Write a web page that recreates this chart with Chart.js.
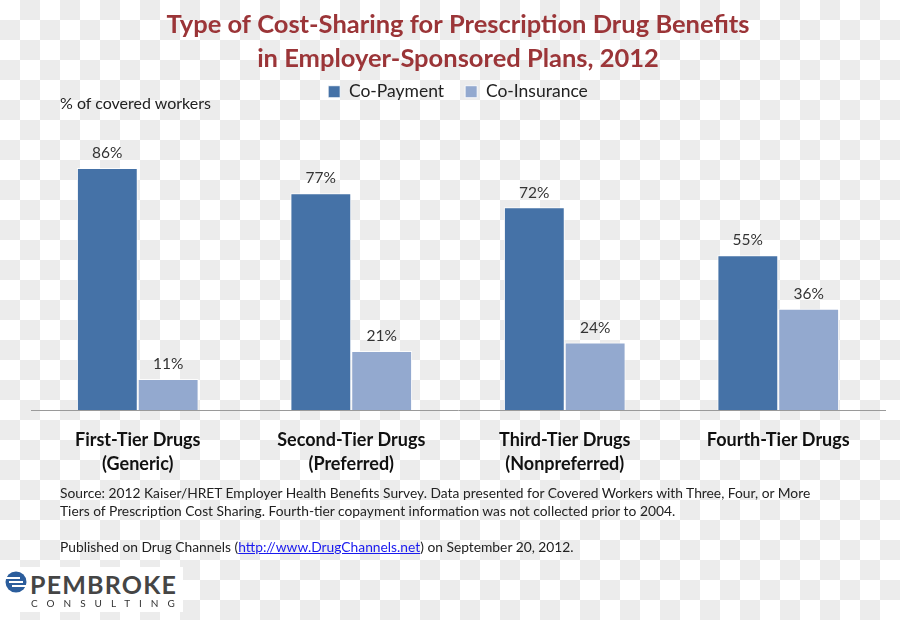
<!DOCTYPE html>
<html>
<head>
<meta charset="utf-8">
<script src="https://cdn.jsdelivr.net/npm/chart.js@4"></script>
<style>
    body{
        margin:0; width:900px; height:620px; overflow:hidden;
        background: repeating-conic-gradient(#ececec 0 25%, #fff 0 50%) 0 0 / 40px 40px;
        font-family: Lato, "Open Sans", sans-serif;
    }
    #wrap{ position:absolute; left:0; top:0; width:900px; height:620px; }
    .note{ position:absolute; color:#222; }
    #yTitle{ left:60px; top:93px; font-size:16px; }
    #source{ left:60px; top:484px; font-size:13.8px; line-height:18px; }
    #source a{ color:#1a1aee; }
    #logo{ position:absolute; left:0; top:567px; width:183px; height:45px; background:#fff; }
    #logo .name{ position:absolute; left:30px; top:2px; font-size:25px; font-weight:bold; letter-spacing:1.2px; color:#454545; }
    #logo .sub{ position:absolute; left:31px; top:30px; font-size:10px; letter-spacing:9px; color:#333; }
</style>
</head>
<body>
<div id="wrap"><canvas id="chart" width="900" height="620"></canvas></div>
<div class="note" id="yTitle">% of covered workers</div>
<div class="note" id="source">
    Source: 2012 Kaiser/HRET Employer Health Benefits Survey. Data presented for Covered Workers with Three, Four, or More<br>
    Tiers of Prescription Cost Sharing. Fourth-tier copayment information was not collected prior to 2004.<br><br>
    Published on Drug Channels (<a href="#">http://www.DrugChannels.net</a>) on September 20, 2012.
</div>
<div id="logo">
    <svg width="30" height="45" style="position:absolute;left:0;top:0">
        <circle cx="16" cy="15" r="10.5" fill="#2b5d9c"/>
        <path d="M4 11 H20" stroke="#fff" stroke-width="2"/>
        <path d="M9 15 H23" stroke="#fff" stroke-width="2"/>
        <path d="M12 19 H28" stroke="#fff" stroke-width="2"/>
    </svg>
    <div class="name">PEMBROKE</div>
    <div class="sub">CONSULTING</div>
</div>

<script>
const categories = [
    ["First-Tier Drugs", "(Generic)"],
    ["Second-Tier Drugs", "(Preferred)"],
    ["Third-Tier Drugs", "(Nonpreferred)"],
    "Fourth-Tier Drugs"
];
const coPayment   = [86, 77, 72, 55];
const coInsurance = [11, 21, 24, 36];

// value labels above each bar
const barLabels = {
    id: "barLabels",
    afterDatasetsDraw(chart){
        const ctx = chart.ctx;
        ctx.save();
        ctx.font = "15.5px Lato";
        ctx.fillStyle = "#333";
        ctx.textAlign = "center";
        ctx.textBaseline = "bottom";
        chart.data.datasets.forEach((ds, i) => {
            chart.getDatasetMeta(i).data.forEach((bar, j) => {
                ctx.fillText(ds.data[j] + "%", bar.x, bar.y - 7);
            });
        });
        ctx.restore();
    }
};

// extra room under the legend so the plot starts lower
const legendGap = {
    id: "legendGap",
    beforeInit(chart){
        const fit = chart.legend.fit;
        chart.legend.fit = function(){
            fit.bind(chart.legend)();
            this.height += 18;
        };
    }
};

new Chart(document.getElementById("chart"), {
    type: "bar",
    data: {
        labels: categories,
        datasets: [{
            label: "Co-Payment",
            data: coPayment,
            backgroundColor: "#4572a7",
            borderColor: "rgba(255,255,255,0.85)",
            borderWidth: 1
        }, {
            label: "Co-Insurance",
            data: coInsurance,
            backgroundColor: "#93a9cf",
            borderColor: "rgba(255,255,255,0.85)",
            borderWidth: 1
        }]
    },
    options: {
        responsive: false,
        animation: false,
        layout: { padding: { left: 31, right: 15, top: 0, bottom: 126 } },
        categoryPercentage: 0.57,
        barPercentage: 1,
        plugins: {
            title: {
                display: true,
                text: ["Type of Cost-Sharing for Prescription Drug Benefits",
                       "in Employer-Sponsored Plans, 2012"],
                color: "#9b3538",
                font: { family: "Lato", size: 25.5, weight: "bold", lineHeight: 1.333 },
                padding: { top: 8, bottom: -14 }
            },
            legend: {
                labels: {
                    color: "#222",
                    font: { family: "Lato", size: 17.5 },
                    boxWidth: 12, boxHeight: 12,
                    padding: 21
                }
            },
            tooltip: { enabled: false }
        },
        scales: {
            x: {
                grid: { display: false, drawTicks: false },
                border: { color: "#9a9a9a", width: 1 },
                ticks: {
                    color: "#111",
                    font: { family: "Lato", size: 18, weight: "bold", lineHeight: 1.333 },
                    padding: 18,
                    autoSkip: false,
                    maxRotation: 0
                }
            },
            y: {
                display: false,
                min: 0,
                max: 100
            }
        }
    },
    plugins: [barLabels, legendGap]
});
</script>
</body>
</html>
